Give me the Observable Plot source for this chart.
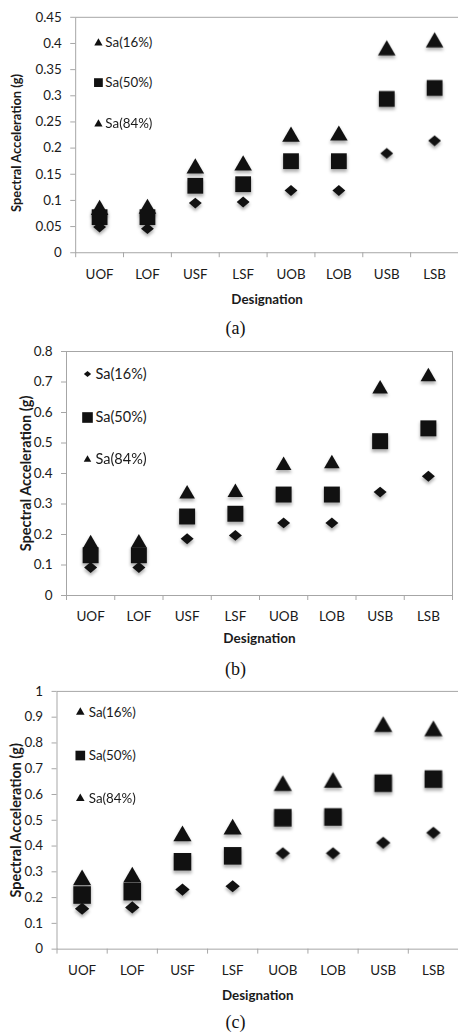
<!DOCTYPE html>
<html>
<head>
<meta charset="utf-8">
<script src="https://cdn.jsdelivr.net/npm/d3@7"></script>
<script src="https://cdn.jsdelivr.net/npm/@observablehq/plot@0.6"></script>
<style>
  html, body { margin: 0; padding: 0; background: #fff; }
  #root { position: relative; width: 458px; height: 1032px; overflow: hidden; background: #fff; }
  .panel { position: absolute; left: 0; }
  .panel svg { display: block; }
  .cap { position: absolute; font-family: "Liberation Serif", "Times New Roman", serif; font-size: 18px; color: #111; transform: translate(-50%, -50%); white-space: nowrap; }
</style>
</head>
<body>
<div id="root"></div>
<script>
// ---- data ----
const categories = ["UOF", "LOF", "USF", "LSF", "UOB", "LOB", "USB", "LSB"];
const boundaries = [0, 1, 2, 3, 4, 5, 6, 7, 8];
const legendLabels = ["Sa(16%)", "Sa(50%)", "Sa(84%)"];

// (a)
const sa16A = [0.049, 0.046, 0.095, 0.097, 0.119, 0.119, 0.190, 0.214];
const sa50A = [0.068, 0.068, 0.128, 0.131, 0.175, 0.175, 0.294, 0.315];
const sa84A = [0.082, 0.084, 0.161, 0.167, 0.222, 0.224, 0.387, 0.402];
const yTicksA = [0, 0.05, 0.1, 0.15, 0.2, 0.25, 0.3, 0.35, 0.4, 0.45];

// (b)
const sa16B = [0.092, 0.092, 0.186, 0.197, 0.238, 0.238, 0.339, 0.391];
const sa50B = [0.132, 0.132, 0.259, 0.268, 0.331, 0.331, 0.506, 0.548];
const sa84B = [0.170, 0.172, 0.333, 0.338, 0.426, 0.432, 0.677, 0.717];
const yTicksB = [0, 0.1, 0.2, 0.3, 0.4, 0.5, 0.6, 0.7, 0.8];

// (c)
const sa16C = [0.157, 0.162, 0.231, 0.244, 0.372, 0.372, 0.413, 0.452];
const sa50C = [0.210, 0.223, 0.339, 0.362, 0.510, 0.513, 0.644, 0.660];
const sa84C = [0.268, 0.279, 0.439, 0.465, 0.634, 0.647, 0.863, 0.847];
const yTicksC = [0, 0.1, 0.2, 0.3, 0.4, 0.5, 0.6, 0.7, 0.8, 0.9, 1];

// ---- drawing ----
const diamond = {
  draw(ctx, size) {
    const r = Math.sqrt(size / Math.PI);
    const w = r * 1.25, h = r * 1.05;
    ctx.moveTo(0, -h); ctx.lineTo(w, 0); ctx.lineTo(0, h); ctx.lineTo(-w, 0); ctx.closePath();
  }
};
const symbolOf = (s) => s === "diamond" ? diamond : s;
const fmt = (d) => String(+d.toFixed(2));
const GRID = "#a6a6a6";
const INK = "#111";

function chart(o) {
  const pts = (vals) => categories.map((c, i) => ({x: i + 0.5, name: c, y: vals[i]}));
  const shadow = (vals, sym, r) => Plot.dot(pts(vals), {x: "x", y: "y", symbol: symbolOf(sym), r: r * 1.05, fill: "#000", fillOpacity: 0.3, stroke: "none", dy: 2.5, imageFilter: "blur(1.6px)"});
  const dot = (vals, sym, r) => Plot.dot(pts(vals), {x: "x", y: "y", symbol: symbolOf(sym), r, fill: INK, stroke: "none"});
  const centers = categories.map((c, i) => i + 0.5);
  const legend = o.legendSymbols.flatMap((s, k) => [
    Plot.dot([legendLabels[k]], {frameAnchor: "top-left", dx: o.lgX, dy: o.lgY[k], symbol: symbolOf(s), r: o.lgR[s], fill: INK, stroke: "none"}),
    Plot.text([legendLabels[k]], {text: d => d, frameAnchor: "top-left", dx: o.lgTX, dy: o.lgY[k], textAnchor: "start", lineAnchor: "middle", fontSize: o.lgFont, fill: "#1a1a1a"})
  ]);
  return Plot.plot({
    width: o.width, height: o.height,
    marginTop: o.mt, marginRight: o.mr, marginBottom: o.mb, marginLeft: o.ml,
    style: {fontFamily: "Lato, 'Open Sans', sans-serif", color: "#1a1a1a", background: "transparent", overflow: "visible"},
    x: {domain: [0, 8]},
    y: {domain: o.yDomain},
    marks: [
      Plot.frame({stroke: GRID}),
      Plot.axisY(o.yTicks, {tickSize: 5, tickPadding: 9, tickFormat: fmt, fontSize: 13.5, stroke: GRID, label: null}),
      Plot.axisX(centers, {tickSize: 0, tickPadding: o.xPad, tickFormat: d => categories[d - 0.5], fontSize: 13.5, label: null}),
      Plot.axisX(boundaries, {tickSize: 5, tickFormat: () => "", stroke: GRID, label: null}),
      Plot.text(["Designation"], {text: d => d, frameAnchor: "bottom", dy: o.desDy, textAnchor: "middle", lineAnchor: "middle", fontWeight: "bold", fontSize: 13.5, fill: "#1a1a1a"}),
      Plot.text(["Spectral Acceleration (g)"], {text: d => d, frameAnchor: "left", dx: o.ylDx, dy: o.ylDy, rotate: -90, textAnchor: "middle", lineAnchor: "middle", fontWeight: "bold", fontSize: o.ylFont, fill: "#1a1a1a"}),
      shadow(o.v84, "triangle", o.rT),
      shadow(o.v50, "square", o.rS),
      shadow(o.v16, "diamond", o.rD),
      dot(o.v84, "triangle", o.rT),
      dot(o.v50, "square", o.rS),
      dot(o.v16, "diamond", o.rD),
      ...legend
    ]
  });
}

const panels = [
  {top: 0, cap: "(a)", capY: 328,
   width: 463, height: 312, mt: 17, mr: 0, mb: 57, ml: 76, xPad: 17, desDy: 47, ylDx: -59, ylDy: 8, ylFont: 13,
   yDomain: [0, 0.45], yTicks: yTicksA, v16: sa16A, v50: sa50A, v84: sa84A, rT: 6.6, rS: 9, rD: 5.2,
   legendSymbols: ["triangle", "square", "triangle"], lgX: 23, lgTX: 30, lgY: [26, 66, 108], lgFont: 13.5,
   lgR: {triangle: 3.1, square: 5, diamond: 2.9}},
  {top: 340, cap: "(b)", capY: 669,
   width: 458, height: 310, mt: 11, mr: 6, mb: 55, ml: 66, xPad: 16, desDy: 43, ylDx: -40.5, ylDy: 0, ylFont: 14.5,
   yDomain: [0, 0.8], yTicks: yTicksB, v16: sa16B, v50: sa50B, v84: sa84B, rT: 5.8, rS: 9, rD: 5.2,
   legendSymbols: ["diamond", "square", "triangle"], lgX: 21, lgTX: 29, lgY: [22.5, 66, 108], lgFont: 14.5,
   lgR: {triangle: 2.8, square: 6, diamond: 2.9}},
  {top: 680, cap: "(c)", capY: 1022,
   width: 462, height: 330, mt: 11, mr: 0, mb: 59, ml: 57, xPad: 16, desDy: 47, ylDx: -40.5, ylDy: 0, ylFont: 14.5,
   yDomain: [0, 1], yTicks: yTicksC, v16: sa16C, v50: sa50C, v84: sa84C, rT: 6.8, rS: 10, rD: 5.8,
   legendSymbols: ["triangle", "square", "triangle"], lgX: 23.5, lgTX: 32, lgY: [21, 64.7, 108], lgFont: 13.5,
   lgR: {triangle: 3.2, square: 5.5, diamond: 2.9}}
];

const root = document.getElementById("root");
for (const p of panels) {
  const wrap = document.createElement("div");
  wrap.className = "panel";
  wrap.style.top = p.top + "px";
  wrap.appendChild(chart(p));
  root.appendChild(wrap);
  const cap = document.createElement("div");
  cap.className = "cap";
  cap.style.left = "235.5px";
  cap.style.top = p.capY + "px";
  cap.textContent = p.cap;
  root.appendChild(cap);
}
</script>
</body>
</html>
